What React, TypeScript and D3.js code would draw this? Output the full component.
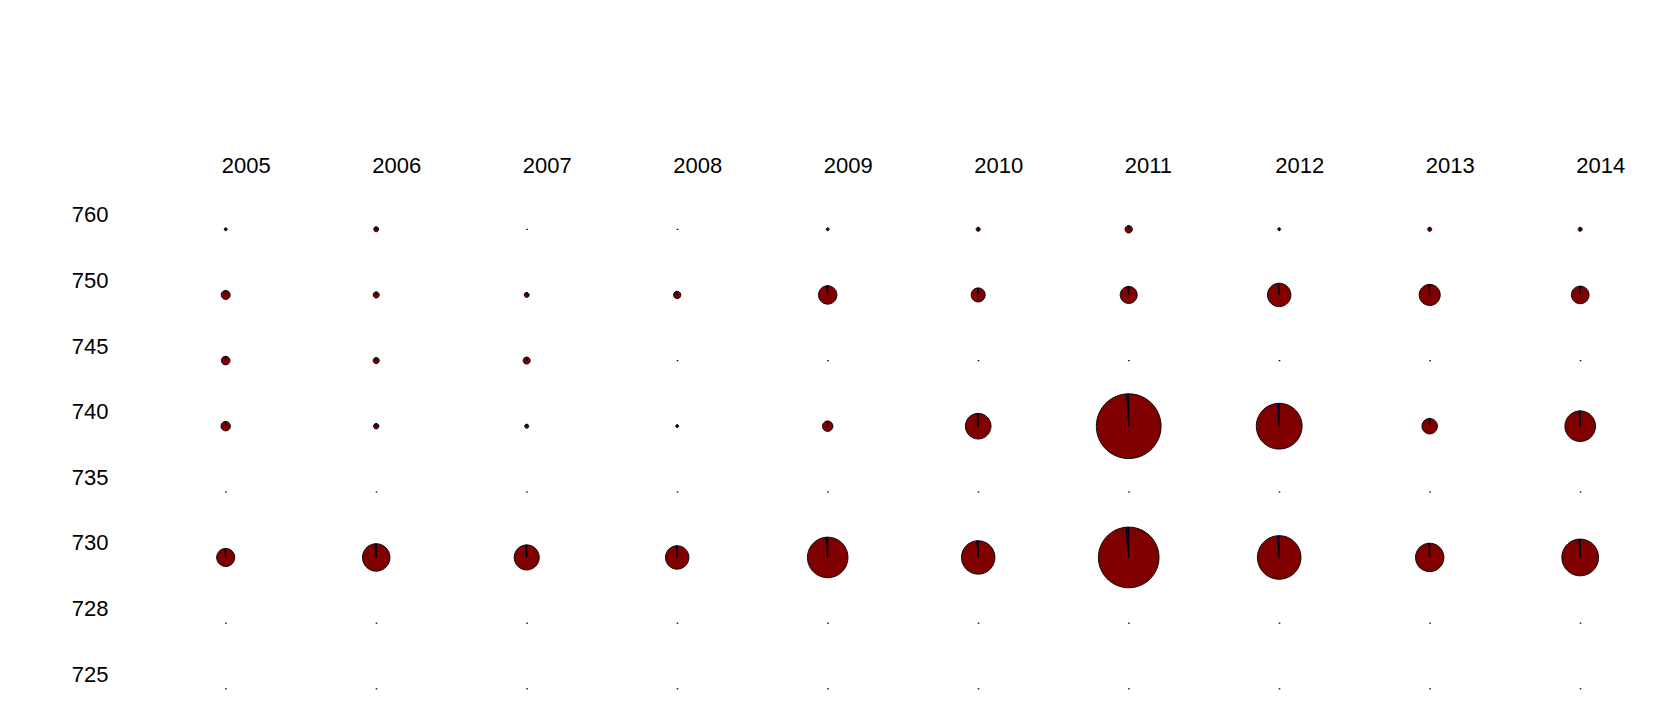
import React from 'react';
import * as d3 from 'd3';

const years = ['2005', '2006', '2007', '2008', '2009', '2010', '2011', '2012', '2013', '2014'];
const rows = ['760', '750', '745', '740', '735', '730', '728', '725'];

// main slice (dark red) per row, one value per year
const redValues: number[][] = [
  [2, 6, 0, 0, 2, 4, 13, 2, 4, 4],
  [19, 9, 6, 13, 81, 47, 69, 131, 106, 74],
  [18, 9, 12, 0, 0, 0, 0, 0, 0, 0],
  [21, 7, 4, 2, 26, 157, 1000, 498, 57, 224],
  [0, 0, 0, 0, 0, 0, 0, 0, 0, 0],
  [78, 180, 150, 131, 391, 267, 874, 451, 193, 321],
  [0, 0, 0, 0, 0, 0, 0, 0, 0, 0],
  [0, 0, 0, 0, 0, 0, 0, 0, 0, 0],
];

// small second slice (navy)
const blueValues: number[][] = [
  [0.03, 0.08, 0, 0, 0.03, 0.05, 0.2, 0.03, 0.05, 0.05],
  [0.3, 0.1, 0.1, 0.2, 1.2, 0.6, 1, 2, 1.5, 1],
  [0.3, 0.1, 0.2, 0, 0, 0, 0, 0, 0, 0],
  [0.3, 0.1, 0.05, 0.03, 0.4, 2, 10, 7, 0.8, 3],
  [0, 0, 0, 0, 0, 0, 0, 0, 0, 0],
  [1, 2.5, 2, 2, 5, 3.5, 12, 6, 2.5, 4],
  [0, 0, 0, 0, 0, 0, 0, 0, 0, 0],
  [0, 0, 0, 0, 0, 0, 0, 0, 0, 0],
];

const colors = ['#800000', '#000080'];

const W = 1655;
const H = 722;

export default function App() {
  const x = d3.scalePoint<string>().domain(years).range([225.7, 1580.2]);
  const y = d3.scalePoint<string>().domain(rows).range([229.3, 688.7]);
  const r = d3.scaleSqrt().domain([0, 1010]).range([0, 32.4]);

  const pie = d3.pie<number>().sort(null).value(d => d);

  const cells: React.ReactNode[] = [];
  rows.forEach((row, i) => {
    years.forEach((yr, j) => {
      const red = redValues[i][j];
      const blue = blueValues[i][j];
      const total = red + blue;
      const cx = x(yr)!;
      const cy = y(row)!;
      if (total <= 0) {
        cells.push(
          <rect key={`${row}-${yr}`} x={cx - 0.5} y={cy - 0.5} width={1.6} height={1.2} fill="#000" />
        );
        return;
      }
      const radius = r(total);
      const arc = d3.arc<d3.PieArcDatum<number>>().innerRadius(0).outerRadius(radius);
      const slices = pie([red, blue]);
      cells.push(
        <g key={`${row}-${yr}`} transform={`translate(${cx},${cy})`}>
          {slices.map((s, k) =>
            s.value > 0 ? (
              <path key={k} d={arc(s) || ''} fill={colors[k]} stroke="#000" strokeWidth={0.9} />
            ) : null
          )}
        </g>
      );
    });
  });

  return (
    <div style={{ position: 'absolute', left: 0, top: 0 }}>
      <svg width={W} height={H} style={{ display: 'block', background: '#fff' }}>
        <g fontFamily="'Liberation Sans', Arial, sans-serif" fontSize={22} fill="#000">
          {years.map(yr => (
            <text key={yr} x={x(yr)! - 4} y={172.7}>
              {yr}
            </text>
          ))}
          {rows.map(row => (
            <text key={row} x={71.7} y={y(row)! - 7}>
              {row}
            </text>
          ))}
        </g>
        {cells}
      </svg>
    </div>
  );
}
